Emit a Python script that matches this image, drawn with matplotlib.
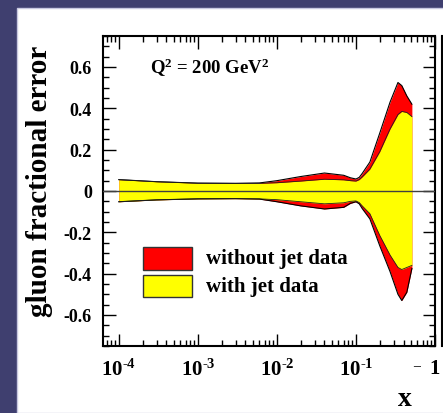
import numpy as np
import matplotlib
matplotlib.use("Agg")
import matplotlib.pyplot as plt
from matplotlib.patches import Rectangle
from matplotlib.lines import Line2D
from matplotlib.ticker import LogLocator, FixedLocator, MultipleLocator, NullFormatter

plt.rcParams['font.family'] = ['Liberation Serif', 'DejaVu Serif']
plt.rcParams['font.weight'] = 'bold'
plt.rcParams['mathtext.fontset'] = 'custom'
plt.rcParams['mathtext.rm'] = 'Liberation Serif:bold'
plt.rcParams['mathtext.it'] = 'Liberation Serif:bold'
plt.rcParams['mathtext.bf'] = 'Liberation Serif:bold'
plt.rcParams['mathtext.default'] = 'bf'

# ---- data ----
x_vals = [1e-4, 3e-4, 1e-3, 3e-3, 6e-3, 1e-2, 2e-2, 4e-2, 7e-2, 0.085, 0.1,
          0.11, 0.12, 0.15, 0.2, 0.27, 0.34, 0.38, 0.44, 0.51]
with_jet_upper = [0.055, 0.045, 0.038, 0.037, 0.037, 0.040, 0.048, 0.057, 0.054, 0.050, 0.048,
                  0.055, 0.068, 0.106, 0.19, 0.30, 0.37, 0.385, 0.38, 0.36]
with_jet_lower = [-0.052, -0.043, -0.038, -0.037, -0.038, -0.042, -0.052, -0.062, -0.057, -0.050, -0.048,
                  -0.056, -0.072, -0.11, -0.215, -0.31, -0.37, -0.38, -0.37, -0.36]
without_jet_upper = [0.055, 0.045, 0.038, 0.037, 0.039, 0.05, 0.07, 0.087, 0.076, 0.064, 0.058,
                     0.066, 0.085, 0.14, 0.28, 0.43, 0.525, 0.51, 0.46, 0.42]
without_jet_lower = [-0.052, -0.043, -0.038, -0.037, -0.039, -0.052, -0.072, -0.087, -0.079, -0.060, -0.052,
                     -0.062, -0.085, -0.135, -0.265, -0.39, -0.50, -0.53, -0.49, -0.375]

x_ticks = [1e-4, 1e-3, 1e-2, 1e-1, 1]
x_ticklabels = [r'$10^{\text{-}4}$', r'$10^{\text{-}3}$', r'$10^{\text{-}2}$', r'$10^{\text{-}1}$', '1']
y_ticks = [-0.6, -0.4, -0.2, 0, 0.2, 0.4, 0.6]
y_ticklabels = ['-0.6', '-0.4', '-0.2', '0', '0.2', '0.4', '0.6']
series_labels = ['without jet data', 'with jet data']
series_colors = ['#ff0000', '#ffff00']

W, H = 443, 414
fig = plt.figure(figsize=(W / 100, H / 100), dpi=100)
fig.patch.set_facecolor('#3f3f6f')
fig.add_artist(Rectangle((17 / W, 0), 1, 1 - 9 / H, transform=fig.transFigure,
                         facecolor='white', edgecolor='#c8c8e0', lw=1.0, zorder=0))
fig.add_artist(Line2D([442 / W, 442 / W], [1 - 37 / H, 1 - 347 / H], transform=fig.transFigure,
                      color='black', lw=1.5))

ax = fig.add_axes([103 / W, 1 - 347 / H, (435 - 103) / W, (347 - 37) / H])
ax.set_facecolor('white')
ax.set_xscale('log')
ax.set_xlim(10 ** -4.2, 1)
ax.set_ylim(-0.75, 0.75)

ax.fill_between(x_vals, without_jet_lower, without_jet_upper, color=series_colors[0], lw=0, zorder=2)
ax.fill_between(x_vals, with_jet_lower, with_jet_upper, color=series_colors[1], lw=0, zorder=3)
for arr in (without_jet_upper, without_jet_lower):
    ax.plot(x_vals, arr, color='black', lw=0.8, zorder=4)
for arr in (with_jet_upper, with_jet_lower):
    ax.plot(x_vals, arr, color='#202020', lw=0.6, zorder=4)
ax.axhline(0, color='#404040', lw=1.0, zorder=5)

ax.xaxis.set_major_locator(FixedLocator(x_ticks))
ax.set_xticklabels(x_ticklabels)
ax.xaxis.set_minor_locator(LogLocator(base=10, subs=np.arange(2, 10)))
ax.xaxis.set_minor_formatter(NullFormatter())
ax.yaxis.set_major_locator(FixedLocator(y_ticks))
ax.set_yticklabels(y_ticklabels)
ax.yaxis.set_minor_locator(MultipleLocator(0.05))

ax.tick_params(which='both', direction='in', top=True, right=True, width=1.0, color='black')
ax.tick_params(which='major', length=9)
ax.tick_params(which='minor', length=4.5)
ax.tick_params(axis='x', which='major', labelsize=15, pad=9)
ax.tick_params(axis='y', which='major', labelsize=13, pad=8)
for lbl in ax.get_xticklabels() + ax.get_yticklabels():
    lbl.set_fontweight('bold')
for sp in ax.spines.values():
    sp.set_linewidth(1.5)

fig.text(40 / W, 1 - 181 / H, 'gluon fractional error', rotation=90, ha='center', va='center',
         fontsize=21, fontweight='bold')
fig.text(405 / W, 1 - 400 / H, 'x', ha='center', va='center', fontsize=20, fontweight='bold')
fig.text(417 / W, 1 - 362 / H, '_', ha='center', va='center', fontsize=10, fontweight='bold')
ax.text(10 ** -3.6, 0.6, r'$Q^2$ = 200 GeV$^2$', ha='left', va='center', fontsize=13.5, fontweight='bold')

# legend drawn by hand
leg_y = [-0.325, -0.46]
for yy, c, lab in zip(leg_y, series_colors, series_labels):
    ax.add_patch(Rectangle((10 ** -3.69, yy - 0.055), 10 ** -3.08 - 10 ** -3.69, 0.11,
                           facecolor=c, edgecolor='#333333', lw=1.0, zorder=6))
    ax.text(10 ** -2.9, yy, lab, ha='left', va='center', fontsize=15, fontweight='bold', zorder=6)

fig.savefig('out.png', dpi=100, facecolor=fig.get_facecolor())
